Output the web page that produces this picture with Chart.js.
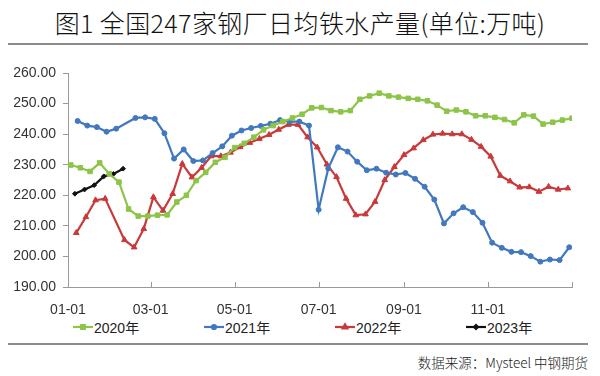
<!DOCTYPE html>
<html>
<head>
<meta charset="utf-8">
<script src="https://cdn.jsdelivr.net/npm/chart.js@4.4.0/dist/chart.umd.min.js"></script>
<style>
body { margin: 0; width: 600px; height: 376px; background: #fff; position: relative; overflow: hidden; }
#title { position: absolute; left: 0; top: 4px; width: 600px; text-align: center; font: 300 25px "Noto Sans CJK SC", sans-serif; letter-spacing: 0.4px; color: #111; }
.rule { position: absolute; left: 8px; width: 580px; height: 2px; background: #8c8c8c; }
#wrap { position: absolute; left: 0; top: 44px; width: 600px; height: 272px; }
#legend { position: absolute; left: 73px; top: 318px; height: 18px; display: flex; }
.item { width: 131px; display: flex; align-items: center; font: 14px "Liberation Sans", "Noto Sans CJK SC", sans-serif; color: #222; }
.item canvas { margin-right: 1px; }
#source { position: absolute; right: 12px; top: 352px; font: 300 13.5px "Noto Sans CJK SC", sans-serif; color: #222; }
</style>
</head>
<body>
<div id="title">图1 全国247家钢厂日均铁水产量(单位:万吨)</div>
<div class="rule" style="top:43px"></div>
<div id="wrap"><canvas id="cntx_iron" width="600" height="272"></canvas></div>
<div id="legend"></div>
<div class="rule" style="top:343px"></div>
<div id="source">数据来源：Mysteel 中钢期货</div>
<script>
// x axis is day of year (mapped onto a leap year), one point per week
const tick_days = [0, 60, 121, 182, 244, 305, 366];
const tick_labels = ["01-01", "03-01", "05-01", "07-01", "09-01", "11-01", ""];

const series_names = ["2020年", "2021年", "2022年", "2023年"];
const first_days = [2, 7, 6, 5];

const iron_2020 = [
	229.9, 229.0, 227.8, 230.6, 227.0, 224.3, 215.5, 213.2, 213.2, 213.5,
	213.6, 217.8, 220.0, 224.8, 227.5, 230.8, 232.4, 235.6, 237.0, 239.0,
	241.4, 242.8, 244.1, 245.3, 246.5, 248.6, 248.7, 247.7, 247.3, 247.7,
	251.4, 252.5, 253.4, 252.5, 252.1, 251.7, 251.4, 250.9, 249.5, 247.5,
	247.9, 247.3, 246.0, 246.0, 245.5, 244.8, 243.7, 246.3, 245.9, 243.3,
	243.9, 244.6, 245.2,
];
const iron_2021 = [
	244.3, 242.8, 242.3, 240.8, 241.8, null, 245.3, 245.5, 245.0, 240.3,
	232.0, 235.0, 231.2, 231.4, 233.8, 236.0, 239.5, 241.2, 242.0, 242.7,
	243.4, 244.6, 244.1, 244.1, 242.8, 215.3, 228.8, 235.7, 234.3, 231.0,
	228.2, 228.7, 227.4, 226.8, 227.3, 225.4, 222.8, 218.6, 210.8, 214.1,
	216.1, 214.5, 211.0, 204.5, 202.8, 201.5, 201.4, 200.1, 198.3, 199.0,
	198.8, 203.0,
];
const iron_2022 = [
	207.7, 212.9, 218.4, 218.9, null, 205.4, 203.0, 209.0, 219.4, 215.0,
	220.5, 230.3, 225.9, 229.0, 232.8, 232.8, 234.0, 235.8, 237.2, 238.5,
	239.8, 241.5, 243.1, 243.1, 239.0, 235.7, 230.1, 226.0, 218.9, 213.5,
	213.8, 217.9, 225.0, 229.3, 233.2, 235.4, 238.1, 239.9, 240.2, 240.0,
	240.0, 238.2, 235.9, 232.7, 226.4, 224.6, 222.6, 222.7, 221.2, 222.8,
	221.9, 222.3,
];
const iron_2023 = [220.5, 221.9, 223.3, 226.2, 227.0, 228.7];

const line_colors = ["#8dc449", "#4178be", "#c8393a", "#111111"];
const point_styles = ["rect", "circle", "triangle", "rectRot"];
const point_sizes = [3.2, 2.5, 3.3, 2.4];

toPoints = (values, first) => values.map((v, i) => ({ x: first + 7 * i, y: v }));

const all_values = [iron_2020, iron_2021, iron_2022, iron_2023];
const datasets = all_values.map((values, k) => ({
	label: series_names[k],
	data: toPoints(values, first_days[k]),
	borderColor: line_colors[k],
	backgroundColor: line_colors[k],
	borderWidth: 2.2,
	pointStyle: point_styles[k],
	pointRadius: point_sizes[k],
	pointBorderWidth: 1,
	spanGaps: true,
	tension: 0,
}));

// small tick marks pointing up into the plot, like the original
const innerTicks = {
	id: "innerTicks",
	beforeDatasetsDraw(chart) {
		const xs = chart.scales.x;
		const ctx = chart.ctx;
		const b = chart.chartArea.bottom;
		ctx.save();
		ctx.strokeStyle = "#9a9a9a";
		ctx.lineWidth = 1;
		xs.ticks.forEach((t) => {
			const px = Math.round(xs.getPixelForValue(t.value)) + 0.5;
			ctx.beginPath();
			ctx.moveTo(px, b);
			ctx.lineTo(px, b - 5);
			ctx.stroke();
		});
		ctx.restore();
	},
};

const canvas = document.querySelector("#cntx_iron");
const myChart = new Chart(canvas, {
	type: "line",
	data: { datasets: datasets },
	options: {
		responsive: false,
		animation: false,
		devicePixelRatio: 1,
		layout: { padding: { top: 29, right: 28, left: 0, bottom: 0 } },
		plugins: { legend: { display: false }, tooltip: { enabled: false } },
		scales: {
			x: {
				type: "linear",
				min: 0,
				max: 366,
				afterBuildTicks: (scale) => {
					scale.ticks = tick_days.map((d) => ({ value: d }));
				},
				afterFit: (scale) => {
					scale.height = 29;
				},
				grid: { display: false },
				border: { color: "#9a9a9a" },
				ticks: {
					padding: 7,
					maxRotation: 0,
					autoSkip: false,
					color: "#333",
					font: { family: "Liberation Sans", size: 14 },
					callback: (v) => tick_labels[tick_days.indexOf(v)],
				},
			},
			y: {
				min: 190,
				max: 260,
				afterFit: (scale) => {
					scale.width = 68;
				},
				grid: { drawOnChartArea: false, tickLength: 5, color: "#9a9a9a" },
				border: { color: "#9a9a9a" },
				ticks: {
					stepSize: 10,
					padding: 7,
					color: "#333",
					font: { family: "Liberation Sans", size: 14 },
					callback: (v) => v.toFixed(2),
				},
			},
		},
	},
	plugins: [innerTicks],
});

// legend: short line with the marker in the middle, then the year
const legend = document.querySelector("#legend");
myChart.data.datasets.forEach((ds) => {
	const item = document.createElement("div");
	item.className = "item";
	const c = document.createElement("canvas");
	c.width = 20;
	c.height = 12;
	const g = c.getContext("2d");
	g.strokeStyle = ds.borderColor;
	g.fillStyle = ds.backgroundColor;
	g.lineWidth = 2.2;
	g.beginPath();
	g.moveTo(0, 6);
	g.lineTo(20, 6);
	g.stroke();
	Chart.helpers.drawPoint(g, { pointStyle: ds.pointStyle, radius: ds.pointRadius * 0.8, rotation: 0, borderWidth: 1 }, 10, 6);
	item.appendChild(c);
	const s = document.createElement("span");
	s.textContent = ds.label;
	item.appendChild(s);
	legend.appendChild(item);
});
</script>
</body>
</html>
